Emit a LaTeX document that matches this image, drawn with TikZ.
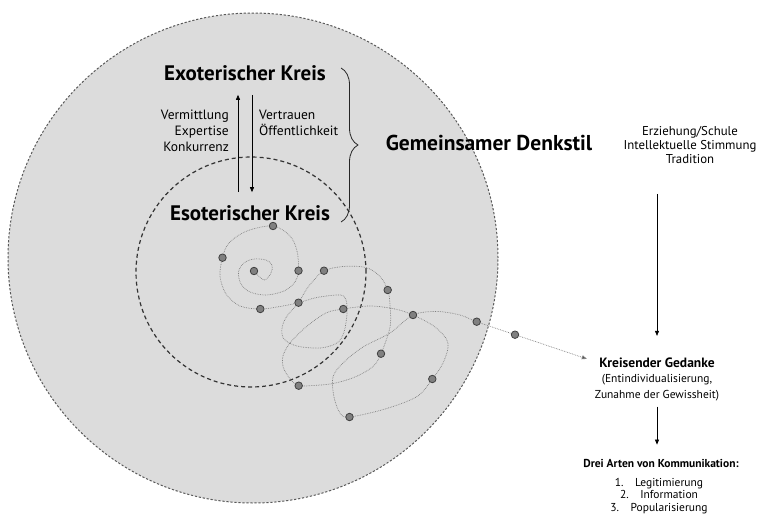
\documentclass[tikz,border=0pt]{standalone}
\usepackage{fontspec}
\setmainfont{PT Sans}
\usetikzlibrary{arrows.meta,positioning,calc,decorations.pathreplacing}
\definecolor{denkgrau}{HTML}{DCDCDC}

\begin{document}
\begin{tikzpicture}[x=1pt, y=-1pt,
    titel/.style={font=\fontsize{21}{24}\selectfont\bfseries, inner sep=0pt},
    seite/.style={font=\fontsize{13.5}{15.8}\selectfont, inner sep=0pt},
    klein/.style={font=\fontsize{11.5}{14}\selectfont, align=center, inner sep=0pt},
    pfeil/.style={-{Triangle[length=5pt,width=4pt]}, line width=0.7pt},
    punkt/.style={circle, draw=black!75, fill=black!50, line width=0.8pt, minimum size=7.5pt, inner sep=0pt},
    spur/.style={densely dotted, black!50, line width=0.7pt}
]
\useasboundingbox (0,0) rectangle (761,522);

% Denkkollektiv
\fill[denkgrau] (253,258) circle[radius=245pt];
\draw[black!65, line width=1pt, dash pattern=on 2.2pt off 1.8pt] (253,258) circle[radius=245pt];
\draw[black!80, line width=1.2pt, dash pattern=on 4pt off 3pt] (251,272) circle[radius=115pt];

\node[titel] (exo) at (245,73) {Exoterischer Kreis};
\node[titel] (eso) at (250,213) {Esoterischer Kreis};
\node[seite, align=right, anchor=east] (vermittlung) at (229,131) {Vermittlung\\Expertise\\Konkurrenz};
\node[seite, align=left, anchor=west] (vertrauen) at (259,123) {Vertrauen\\Öffentlichkeit};

\draw[pfeil, shorten <=13pt, shorten >=14pt] (eso.north -| 238,0) -- (exo.south -| 238,0);
\draw[pfeil, shorten <=14pt, shorten >=13pt] (exo.south -| 252,0) -- (eso.north -| 252,0);

\coordinate (klammeroben) at (341,68);
\coordinate (klammerunten) at (341,222);
\draw[decorate, decoration={brace, amplitude=17pt}, line width=0.8pt, black!85] (klammeroben) -- (klammerunten);

\node[titel, font=\fontsize{21.5}{24}\selectfont\bfseries] (denkstil) at (489,143) {Gemeinsamer Denkstil};

% kreisender Gedanke
\coordinate (p1) at (254,271);
\coordinate (p2) at (298.5,270.7);
\coordinate (p3) at (273,226);
\coordinate (p4) at (222.5,257.7);
\coordinate (p5) at (260.3,309);
\coordinate (p6) at (298.5,302.7);
\coordinate (p7) at (324,270.7);
\coordinate (p8) at (387.7,290);
\coordinate (p9) at (381,353.7);
\coordinate (p10) at (298.7,385.7);
\coordinate (p11) at (343.3,309);
\coordinate (p12) at (413,315);
\coordinate (p13) at (432.3,379);
\coordinate (p14) at (349.5,417);
\coordinate (p15) at (476.7,321.7);
\coordinate (p16) at (515,334.7);

\draw[spur] plot[smooth, tension=0.55] coordinates {
    (p1) (264,280) (271,273) (272,265) (266,260) (254,259) (244,263) (238.5,272)
    (241,284) (250,292) (266,295) (284,291) (295,282) (p2) (297,251) (290,236)
    (p3) (247,231) (229,243) (p4) (220,276) (226,294) (240,306) (p5) (280,306.5)
    (p6) (317,297.5) (340,295) (346,300) (347,314) (344,332) (337,343) (320,348)
    (297,346) (284,339) (282,328) (287,316) (p6) (306,290) (314,280) (p7)
    (343,266.5) (366,267.5) (380,276.5) (p8) (390,305) (390,327) (p9) (373,366.5)
    (355,377) (333,383.5) (313,385.5) (p10) (291,380) (283.5,368) (283,356)
    (290,343) (306,327) (326,313) (p11) (370,306) (395,309) (p12) (435,327)
    (448,343) (443,363) (p13) (417,396.5) (385,409) (p14) (340,413) (334,397)
    (333,377) (343,363) (363,347) (390,333) (p12) (437,311.5) (460,315) (p15) (p16)};

\foreach \i in {1,...,16}
    \node[punkt] (punkt\i) at (p\i) {};

% rechte Spalte
\node[klein, font=\fontsize{12.8}{14}\selectfont] (stil) at (690,145) {Erziehung/Schule\\Intellektuelle Stimmung\\Tradition};
\node[klein, font=\fontsize{13.5}{14}\selectfont\bfseries] (gedanke) at (657,363) {Kreisender Gedanke};
\node[klein, font=\fontsize{11.5}{16}\selectfont] (gewiss) at (657,388) {(Entindividualisierung,\\Zunahme der Gewissheit)};
\node[klein, font=\fontsize{11.5}{14}\selectfont\bfseries] (arten) at (661,463) {Drei Arten von Kommunikation:};
\node[klein, font=\fontsize{11.5}{12.7}\selectfont] (liste) at (659,496) {1.\quad Legitimierung\\2.\quad Information\\3.\quad Popularisierung};

\draw[pfeil, shorten <=30pt, shorten >=22pt] (gedanke.north |- stil.south) -- (gedanke.north);
\draw[pfeil, shorten <=5pt, shorten >=14pt] (gewiss.south) -- (gewiss.south |- arten.north);
\draw[spur, -{Triangle[length=5pt,width=4pt,fill=black!70]}, shorten >=13pt] (punkt16) -- (gedanke.west);
\end{tikzpicture}
\end{document}
